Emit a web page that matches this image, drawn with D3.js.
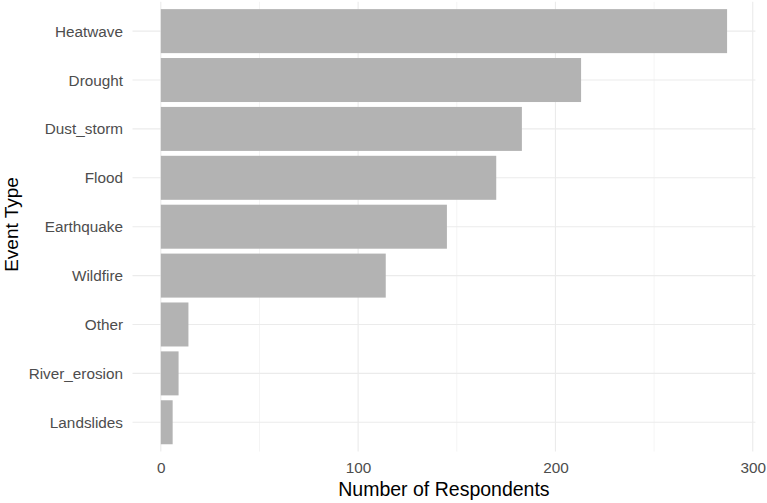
<!DOCTYPE html>
<html>
<head>
<meta charset="utf-8">
<script src="https://cdn.jsdelivr.net/npm/d3@7"></script>
<style>
  html, body { margin: 0; padding: 0; background: #ffffff; }
  svg { display: block; font-family: "Liberation Sans", Arial, sans-serif; }
</style>
</head>
<body>
<svg id="chart" width="767" height="503"></svg>
<script>
const categories = ["Heatwave", "Drought", "Dust_storm", "Flood", "Earthquake", "Wildfire", "Other", "River_erosion", "Landslides"];
const respondents = [287, 213, 183, 170, 145, 114, 14, 9, 6];
const majorTicks = [0, 100, 200, 300];
const minorTicks = [50, 150, 250];
const xTitle = "Number of Respondents";
const yTitle = "Event Type";

const data = categories.map((c, i) => ({ category: c, value: respondents[i] }));

const svg = d3.select("#chart");
const panel = { left: 132.5, right: 755.4, top: 1.8, bottom: 451.6 };

const maxV = d3.max(respondents);
const pad = maxV * 0.05;
const x = d3.scaleLinear().domain([-pad, maxV + pad]).range([panel.left, panel.right]);
const y = d3.scaleBand().domain(categories).range([panel.top, panel.bottom])
  .paddingInner(0.1).paddingOuter(0.15);

const grid = svg.append("g");
grid.selectAll("line.minor").data(minorTicks).join("line")
  .attr("x1", d => x(d)).attr("x2", d => x(d))
  .attr("y1", panel.top).attr("y2", panel.bottom)
  .attr("stroke", "#ebebeb").attr("stroke-width", 0.55);
grid.selectAll("line.majorx").data(majorTicks).join("line")
  .attr("x1", d => x(d)).attr("x2", d => x(d))
  .attr("y1", panel.top).attr("y2", panel.bottom)
  .attr("stroke", "#ebebeb").attr("stroke-width", 1.1);
grid.selectAll("line.majory").data(categories).join("line")
  .attr("x1", panel.left).attr("x2", panel.right)
  .attr("y1", d => y(d) + y.bandwidth() / 2).attr("y2", d => y(d) + y.bandwidth() / 2)
  .attr("stroke", "#ebebeb").attr("stroke-width", 1.1);

svg.append("g").selectAll("rect").data(data).join("rect")
  .attr("x", x(0))
  .attr("y", d => y(d.category))
  .attr("width", d => x(d.value) - x(0))
  .attr("height", y.bandwidth())
  .attr("fill", "#b3b3b3");

// y-axis labels
const yAxis = svg.append("g")
  .attr("transform", `translate(${panel.left - 9.5},0)`)
  .call(d3.axisLeft(y).tickSize(0).tickPadding(0));
yAxis.select(".domain").remove();
yAxis.selectAll("text")
  .attr("font-size", "15.3px")
  .attr("font-family", "Liberation Sans, Arial, sans-serif")
  .attr("fill", "#4d4d4d")
  .attr("dy", "0.36em");

// x-axis labels
const xAxis = svg.append("g")
  .attr("transform", `translate(0,${panel.bottom})`)
  .call(d3.axisBottom(x).tickValues(majorTicks).tickSize(0).tickPadding(0).tickFormat(d3.format("d")));
xAxis.select(".domain").remove();
xAxis.selectAll("text")
  .attr("font-size", "15.3px")
  .attr("font-family", "Liberation Sans, Arial, sans-serif")
  .attr("fill", "#4d4d4d")
  .attr("y", 21.3)
  .attr("dy", "0");

svg.append("text")
  .attr("x", (panel.left + panel.right) / 2)
  .attr("y", 495.5)
  .attr("text-anchor", "middle")
  .attr("font-size", "19.5px")
  .attr("fill", "#000")
  .text(xTitle);

svg.append("text")
  .attr("transform", `translate(18,224.5) rotate(-90)`)
  .attr("text-anchor", "middle")
  .attr("font-size", "19px")
  .attr("fill", "#000")
  .text(yTitle);
</script>
</body>
</html>
